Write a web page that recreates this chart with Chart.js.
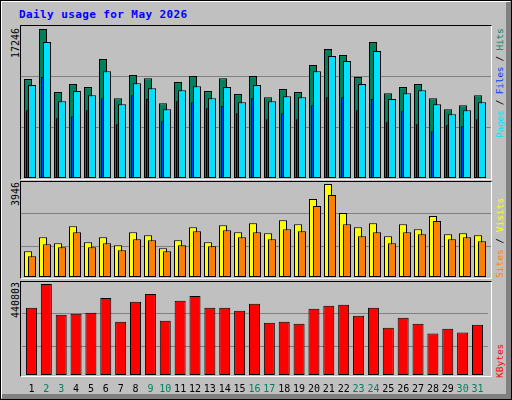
<!DOCTYPE html>
<html><head><meta charset="utf-8">
<script src="https://cdn.jsdelivr.net/npm/chart.js@4"></script>
<style>
html,body{margin:0;padding:0;background:#fff;}
#wrap{position:relative;width:512px;height:400px;background:#c0c0c0;overflow:hidden;font-family:"DejaVu Sans Mono",monospace;}
.abs{position:absolute;}
.frame{position:absolute;box-sizing:border-box;border-top:1px solid #000;border-left:1px solid #000;border-right:1px solid #fff;border-bottom:1px solid #fff;}
.vt{position:absolute;transform:rotate(-90deg);transform-origin:0 0;white-space:nowrap;}
canvas{position:absolute;}
</style></head>
<body>
<div id="wrap">
  <div class="abs" style="left:0;top:0;width:512px;height:400px;box-sizing:border-box;border:1px solid #000"></div>
  <div class="abs" style="left:1px;top:1px;width:509px;height:1px;background:#fff"></div>
  <div class="abs" style="left:1px;top:1px;width:1px;height:397px;background:#fff"></div>
  <div class="abs" style="left:506px;top:2px;width:5px;height:397px;background:#808080"></div>
  <div class="abs" style="left:2px;top:394px;width:509px;height:5px;background:#808080"></div>

  <div id="title" class="abs" style="left:19px;top:9px;font-weight:bold;font-size:11px;line-height:11px;letter-spacing:0.4px;color:#0000ff;white-space:nowrap"></div>

  <div class="frame" style="left:20px;top:25px;width:472px;height:155px"></div>
  <div class="frame" style="left:20px;top:181px;width:472px;height:98px"></div>
  <div class="frame" style="left:20px;top:281px;width:472px;height:96px"></div>

  <canvas id="c1" width="470" height="153" style="left:21px;top:26px"></canvas>
  <canvas id="c2" width="470" height="96" style="left:21px;top:182px"></canvas>
  <canvas id="c3" width="470" height="113" style="left:21px;top:282px"></canvas>

  <div id="ymax1" class="vt" style="left:10.5px;top:57.5px;font-size:10px;line-height:10px"></div>
  <div id="ymax2" class="vt" style="left:10.5px;top:205.8px;font-size:10px;line-height:10px"></div>
  <div id="ymax3" class="vt" style="left:10.5px;top:317.5px;font-size:10px;line-height:10px"></div>

  <div class="vt" style="left:495px;top:137.5px;font-size:9.5px;line-height:10px;letter-spacing:-0.25px"><span style="color:#00e0ff">Pages</span><span style="color:#000"> / </span><span style="color:#0040ff">Files</span><span style="color:#000"> / </span><span style="color:#00805c">Hits</span></div>
  <div class="vt" style="left:495px;top:277.5px;font-size:9.5px;line-height:10px"><span style="color:#ff8000">Sites</span><span style="color:#000"> / </span><span style="color:#ffff00">Visits</span></div>
  <div class="vt" style="left:495px;top:377.5px;font-size:9.5px;line-height:10px"><span style="color:#ff0000">KBytes</span></div>
</div>
<script>
// ---- data ----
const titleText = 'Daily usage for May 2026';
const dayLabels = ['1','2','3','4','5','6','7','8','9','10','11','12','13','14','15','16','17','18','19','20','21','22','23','24','25','26','27','28','29','30','31'];
const weekendDays = ['2','3','9','10','16','17','23','24','30','31'];
const hits   = [11450,17246,9940,10870,10520,13770,9240,11910,11560,8660,11100,11800,10060,11560,9710,11800,9360,10290,9940,13070,14930,14230,11680,15740,9820,10520,10870,9240,7970,8430,9590];
const pages  = [10750,15738,8890,10060,9590,12370,8550,10980,10400,7970,10170,10630,9240,10520,8780,10750,8890,9470,9360,12370,14110,13540,10870,14690,9130,9820,10170,8550,7390,7850,8780];
const files  = [7850,11680,6920,7150,7850,9240,6220,9590,9130,6570,8890,8780,8080,8320,7500,9240,6810,7500,6810,8430,9360,9360,7850,9130,6460,7730,6220,5410,6110,5990,6810];
const visits = [1093,1689,1434,2157,1477,1689,1349,1902,1775,1221,1562,2115,1477,2200,1902,2285,1860,2413,2243,3307,3946,2711,2115,2285,1732,2243,2030,2584,1817,1860,1775];
const sites  = [881,1392,1264,1902,1264,1434,1137,1605,1562,1093,1349,1945,1307,1988,1689,1902,1605,2030,1945,3010,3478,2243,1732,1902,1434,1902,1817,2371,1605,1689,1520];
const kbytes = [325400,440803,291800,296600,301400,373500,258100,354300,392700,262900,359100,383100,325400,325400,311000,344700,253300,258100,248500,320600,335000,339900,287000,325400,229300,277400,248500,200500,224500,205300,243700];

// ---- colours ----
const C = {hits:'#00805c', files:'#0040ff', pages:'#00e0ff', visits:'#ffff00', sites:'#ff8000', kbytes:'#ff0000', grid:'#808080', wkend:'#00805c'};

document.getElementById('title').textContent = titleText;
document.getElementById('ymax1').textContent = String(Math.max(...hits));
document.getElementById('ymax2').textContent = String(Math.max(...visits));
document.getElementById('ymax3').textContent = String(Math.max(...kbytes));

Chart.defaults.font.family = '"DejaVu Sans Mono", monospace';

const STEP = 15, AREA_W = 470, FIRST = 7;   // px per day, plot width, px from left to day-1 bar centre
const xMin = 1 - FIRST / STEP, xMax = xMin + AREA_W / STEP;

function pts(arr, shiftPx) {
  return arr.map((v, i) => ({x: i + 1 + shiftPx / STEP, y: v}));
}
function bar(label, arr, shiftPx, color, thick, order) {
  return {label, data: pts(arr, shiftPx), backgroundColor: color, borderColor: '#000', borderWidth: 1,
    borderSkipped: false, inflateAmount: 0, grouped: false, barThickness: thick, order};
}
// T: canvas top, H: plot height, P0: zero pixel, Pm: pixel of max value M, rows: grid rows (page px)
function yScale(T, H, P0, Pm, M, rows) {
  const k = M / (P0 - Pm);
  return {
    min: -(T + H - P0) * k, max: (P0 - T) * k, display: true,
    ticks: {display: false},
    grid: {drawTicks: false, color: C.grid, lineWidth: 1},
    border: {display: false},
    afterBuildTicks: s => { s.ticks = rows.map(r => ({value: (P0 - (r + 0.5)) * k})); }
  };
}
function xScale(show) {
  const s = {type: 'linear', min: xMin, max: xMax, offset: false, display: show,
    grid: {display: false, offset: false, drawTicks: false}, border: {display: false}};
  if (show) {
    s.afterBuildTicks = sc => { sc.ticks = dayLabels.map((d, i) => ({value: i + 1 + 2.5 / STEP})); };
    s.afterFit = sc => { sc.height = 19; };
    s.ticks = {autoSkip: false, maxRotation: 0, minRotation: 0, padding: 7.5,
      font: {size: 10}, callback: (v, i) => dayLabels[i],
      color: ctx => weekendDays.includes(dayLabels[ctx.index]) ? C.wkend : '#000'};
  }
  return s;
}
const common = {responsive: false, animation: false, events: [],
  plugins: {legend: {display: false}, tooltip: {enabled: false}, title: {display: false}},
  layout: {padding: 0}};

new Chart(document.getElementById('c1'), {
  type: 'bar',
  data: {datasets: [
    bar('Pages', pages, 4, C.pages, 8, 0),
    bar('Files', files, 2, C.files, 8, 1),
    bar('Hits', hits, 0, C.hits, 8, 2)
  ]},
  options: {...common, scales: {x: xScale(false), y: yScale(26, 153, 178, 29, Math.max(...hits), [76, 127])}}
});
new Chart(document.getElementById('c2'), {
  type: 'bar',
  data: {datasets: [
    bar('Sites', sites, 4, C.sites, 8, 0),
    bar('Visits', visits, 0, C.visits, 8, 1)
  ]},
  options: {...common, scales: {x: xScale(false), y: yScale(182, 96, 277, 184, Math.max(...visits), [213, 246])}}
});
new Chart(document.getElementById('c3'), {
  type: 'bar',
  data: {datasets: [
    bar('KBytes', kbytes, 2.5, C.kbytes, 11, 0)
  ]},
  options: {...common, scales: {x: xScale(true), y: yScale(282, 94, 375, 284, Math.max(...kbytes), [313, 346])}}
});
</script>
</body></html>
